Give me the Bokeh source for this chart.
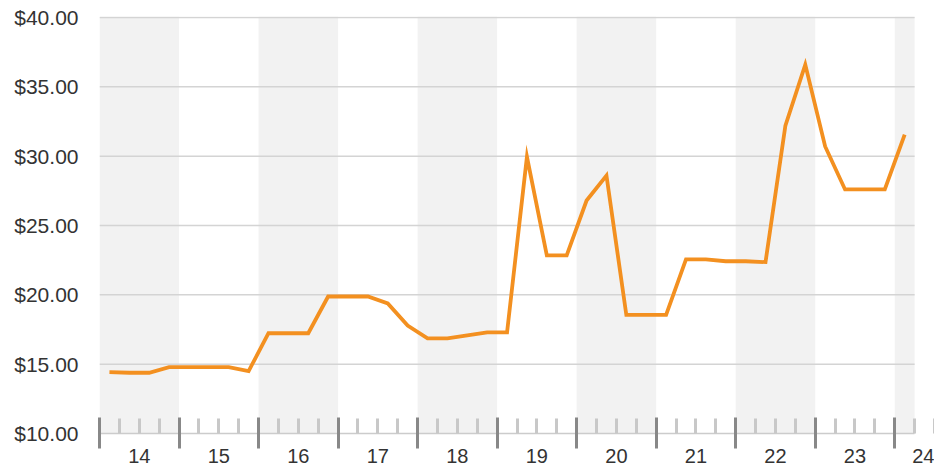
from bokeh.plotting import figure
from bokeh.models import (ColumnDataSource, FixedTicker, NumeralTickFormatter,
                          LinearAxis)
from bokeh.embed import file_html
from bokeh.resources import INLINE

# ---- data ----
years = list(range(2014, 2025))
year_labels = ["14", "15", "16", "17", "18", "19", "20", "21", "22", "23", "24"]
point_years = [y for y in range(2014, 2024) for _ in range(4)] + [2024]
point_quarters = [1, 2, 3, 4] * 10 + [1]
prices = [14.42, 14.38, 14.38, 14.78,
          14.78, 14.78, 14.78, 14.50,
          17.23, 17.23, 17.23, 19.88,
          19.88, 19.88, 19.38, 17.79,
          16.86, 16.86, 17.07, 17.29,
          17.29, 29.95, 22.85, 22.85,
          26.80, 28.60, 18.55, 18.55,
          18.55, 22.55, 22.55, 22.42,
          22.42, 22.36, 32.20, 36.60,
          30.70, 27.60, 27.60, 27.60,
          31.55]
y_ticks = [10, 15, 20, 25, 30, 35, 40]

FONT = "Liberation Sans"
TEXT = "#333333"

x_start = 2014
x_data_end = point_years[-1] + point_quarters[-1] / 4      # end of last quarter
x_view_end = years[-1] + 0.5                                # centre of last year
x_pts = [y + (q - 0.5) / 4 for y, q in zip(point_years, point_quarters)]

# frame runs to the right edge of the page; data area stops at x_data_end
p = figure(width=934, height=470, output_backend="svg", toolbar_location=None,
           x_range=(x_start, x_view_end), y_range=(10, 40.07),
           x_axis_location=None,
           min_border_left=99, min_border_right=0, min_border_top=16,
           min_border_bottom=37)
p.outline_line_color = None
p.background_fill_color = "white"

# shaded bands for alternating years
band_left = [y for y in years if (y - 2014) % 2 == 0]
band_src = ColumnDataSource(dict(left=band_left,
                                 right=[min(y + 1, x_data_end) for y in band_left]))
p.quad(left="left", right="right", bottom=0, top=40.07, source=band_src,
       fill_color="#f2f2f2", line_color=None, level="image")

# horizontal grid lines, limited to the data area
grid_y = y_ticks[1:]
p.segment(x0=[x_start] * len(grid_y), x1=[x_data_end] * len(grid_y),
          y0=grid_y, y1=grid_y, line_color="#d4d4d4", line_width=1.5,
          level="underlay")

# line
p.line(x_pts, prices, line_color="#f39020", line_width=3.8, line_join="miter")

# x axis 1: year boundaries (major) and quarters (minor), no labels
quarters = [y + q / 4 for y in years for q in (1, 2, 3)]
xa = LinearAxis(ticker=FixedTicker(ticks=years, minor_ticks=quarters),
                bounds=(x_start, x_data_end))
xa.major_label_overrides = {y: "" for y in years}
xa.major_label_text_font_size = "0px"
xa.major_label_standoff = 0
xa.axis_line_color = "#cccccc"
xa.axis_line_width = 1.5
xa.major_tick_line_color = "#888888"
xa.major_tick_line_width = 3
xa.major_tick_in = 16
xa.major_tick_out = 15
xa.minor_tick_line_color = "#c8c8c8"
xa.minor_tick_line_width = 3
xa.minor_tick_in = 15
xa.minor_tick_out = 0
p.add_layout(xa, "below")

# x axis 2: year labels centred in each year (last one at the page edge)
centers = [y + 0.5 for y in years]
xb = LinearAxis(ticker=FixedTicker(ticks=centers, minor_ticks=[]))
xb.major_label_overrides = {c: t for c, t in zip(centers, year_labels)}
xb.axis_line_color = None
xb.major_tick_line_color = None
xb.minor_tick_line_color = None
xb.major_tick_out = 0
xb.major_tick_in = 0
xb.major_label_standoff = 0
xb.major_label_text_font = FONT
xb.major_label_text_font_size = "20px"
xb.major_label_text_color = TEXT
p.add_layout(xb, "below")

# y axis
ya = p.yaxis[0]
ya.ticker = FixedTicker(ticks=y_ticks)
ya.formatter = NumeralTickFormatter(format="$0.00")
ya.axis_line_color = None
ya.major_tick_line_color = None
ya.minor_tick_line_color = None
ya.major_label_standoff = 15
ya.major_label_text_font = FONT
ya.major_label_text_font_size = "21px"
ya.major_label_text_color = TEXT

p.xgrid.grid_line_color = None
p.ygrid.grid_line_color = None

open("out.html", "w").write(file_html(p, INLINE))
